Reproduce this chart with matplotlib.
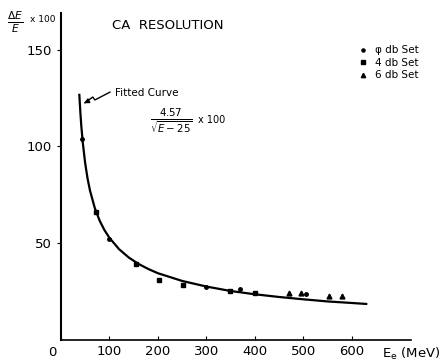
"""
CA resolution vs electron energy, with fitted curve.
"""

import matplotlib

matplotlib.use("Agg")
import matplotlib.pyplot as plt

# fitted curve
curve_e = [38, 40, 42, 45, 50, 55, 60, 70, 80, 90, 100, 120, 140, 160, 180,
           200, 250, 300, 350, 400, 450, 500, 550, 600, 630]
curve_res = [126.7, 118.0, 110.8, 102.2, 91.4, 83.4, 77.2, 68.1, 61.6, 56.7, 52.8,
             46.9, 42.6, 39.3, 36.7, 34.5, 30.5, 27.6, 25.3, 23.6, 22.2, 21.0,
             19.9, 19.1, 18.6]

# measured points
set0_e = [43, 100, 300, 369, 505]
set0_res = [104, 52, 27.5, 26.4, 23.8]
set4_e = [72, 155, 202, 252, 348, 400]
set4_res = [66, 39, 31, 28.5, 25.4, 24.4]
set6_e = [470, 495, 553, 581]
set6_res = [24.4, 24.4, 22.8, 22.8]

fig = plt.figure(figsize=(4.48, 3.62), dpi=100)
ax = fig.add_axes([0.136, 0.061, 0.781, 0.903])

ax.plot(curve_e, curve_res, color="black", linewidth=1.6)
ax.plot(set0_e, set0_res, "o", color="black", markersize=2.5, label="φ db Set")
ax.plot(set4_e, set4_res, "s", color="black", markersize=2.5, label="4 db Set")
ax.plot(set6_e, set6_res, "^", color="black", markersize=3.5, label="6 db Set")

ax.set_xlim(0, 722)
ax.set_ylim(0, 169)
ax.spines["top"].set_visible(False)
ax.spines["right"].set_visible(False)
ax.spines["left"].set_linewidth(1.5)
ax.spines["bottom"].set_linewidth(1.2)
ax.set_xticks([100, 200, 300, 400, 500, 600])
ax.set_yticks([50, 100, 150])
ax.tick_params(axis="x", direction="in", length=3, labelsize=9.5, pad=4)
ax.tick_params(axis="y", direction="out", length=3, labelsize=9.5)

ax.text(-0.025, -0.018, "0", transform=ax.transAxes, fontsize=9.5, ha="center", va="top")
ax.text(1.0, -0.018, r"E$_\mathregular{e}$ (MeV)", transform=ax.transAxes,
        fontsize=9.5, ha="center", va="top")
fig.text(0.015, 0.94, r"$\frac{\Delta E}{E}$", fontsize=11, va="center")
fig.text(0.068, 0.945, "x 100", fontsize=6.5, va="center")
fig.text(0.25, 0.93, "CA  RESOLUTION", fontsize=9.5, va="center")

# zig-zag pointer to the curve
ax.plot([0.14, 0.097, 0.091, 0.07], [0.758, 0.734, 0.743, 0.727],
        transform=ax.transAxes, color="black", lw=1.0)
ax.annotate("", xy=(0.066, 0.724), xytext=(0.075, 0.729),
            xycoords="axes fraction",
            arrowprops=dict(arrowstyle="-|>", color="black", lw=1.0,
                            mutation_scale=7))
ax.text(0.155, 0.755, "Fitted Curve", transform=ax.transAxes, fontsize=7.5,
        va="center")
ax.text(0.255, 0.67, r"$\frac{4.57}{\sqrt{E-25}}$", transform=ax.transAxes,
        fontsize=10.5, va="center")
ax.text(0.392, 0.672, "x 100", transform=ax.transAxes, fontsize=7, va="center")

ax.legend(loc="upper right", bbox_to_anchor=(1.05, 0.93), frameon=False,
          fontsize=7.5, handlelength=0.8, handletextpad=0.8, labelspacing=0.25,
          markerscale=0.9)

fig.savefig("out.png", dpi=100)
